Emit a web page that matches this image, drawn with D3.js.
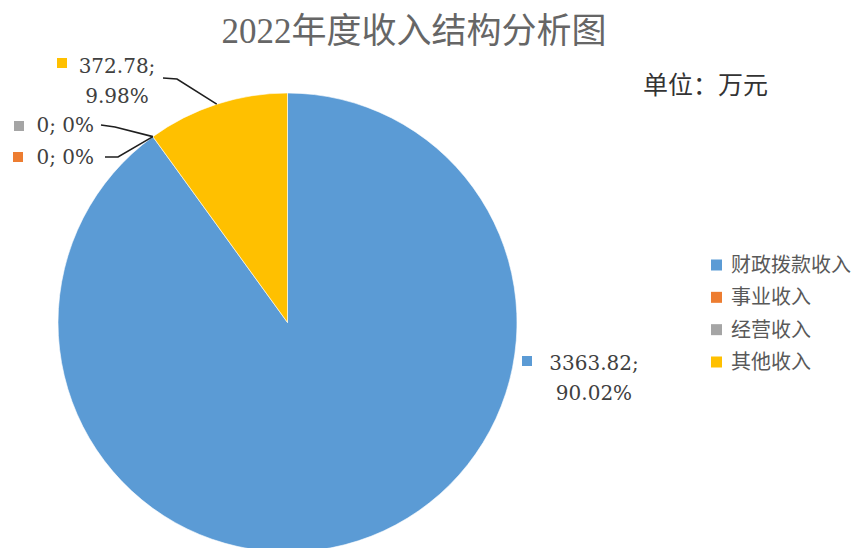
<!DOCTYPE html>
<html>
<head>
<meta charset="utf-8">
<script src="https://cdn.jsdelivr.net/npm/d3@7"></script>
<style>
  html, body { margin: 0; padding: 0; background: #ffffff; }
  svg { display: block; }
</style>
</head>
<body>
<svg id="chart" width="864" height="548"></svg>
<script>
// ---- data ----
const title = "2022年度收入结构分析图";
const unitLabel = "单位：万元";
const categories = ["财政拨款收入", "事业收入", "经营收入", "其他收入"];
const values = [3363.82, 0, 0, 372.78];
const colors = ["#5B9BD5", "#ED7D31", "#A5A5A5", "#FFC000"];

// ---- layout (not data) ----
const W = 864, H = 548;
const cx = 287.5, cy = 322.5, R = 229.5;
const serif = "'DejaVu Serif', 'Noto Sans CJK SC', serif";
const cjk = "'Noto Sans CJK SC', sans-serif";

const svg = d3.select("#chart");
svg.append("rect").attr("width", W).attr("height", H).attr("fill", "#fff");

// title
svg.append("text")
  .attr("x", 414).attr("y", 43)
  .attr("text-anchor", "middle")
  .attr("font-family", "'Liberation Serif', 'Noto Sans CJK SC', serif")
  .attr("font-size", 35)
  .attr("fill", "#666666")
  .text(title);

// unit
svg.append("text")
  .attr("x", 643).attr("y", 94)
  .attr("font-family", cjk)
  .attr("font-size", 25)
  .attr("fill", "#333333")
  .text(unitLabel);

// pie
const total = d3.sum(values);
const pie = d3.pie().sort(null).value(d => d)(values);
const arc = d3.arc().innerRadius(0).outerRadius(R);
const g = svg.append("g").attr("transform", `translate(${cx},${cy})`);
g.selectAll("path").data(pie).join("path")
  .attr("d", arc)
  .attr("fill", (d, i) => colors[i])
  .attr("stroke", "#ffffff")
  .attr("stroke-width", d => d.value > 0 ? 0.6 : 0);

// labels
function fmtVal(v) { return v === 0 ? "0" : v.toFixed(2); }
function fmtPct(v) { const p = v / total; return p === 0 ? "0%" : (p * 100).toFixed(2) + "%"; }
function edgePoint(d) {
  const a = (d.startAngle + d.endAngle) / 2;
  return [cx + R * Math.sin(a), cy - R * Math.cos(a)];
}

// per-slice label placement (positions only)
const labelLayout = [
  { twoLine: true, x: 594, y1: 370, y2: 400, sq: [522, 356], line: null },
  { twoLine: false, x: 94, y1: 164, sq: [13, 152], line: [[105, 157], [118, 157]] },
  { twoLine: false, x: 94, y1: 132, sq: [14, 121], line: [[101, 125], [115, 127]] },
  { twoLine: true, x: 117, y1: 73, y2: 103, sq: [57, 58], line: [[163, 78], [177, 79]] }
];

const lg = svg.append("g");
pie.forEach((d, i) => {
  const L = labelLayout[i];
  if (L.line) {
    const pts = L.line.concat([edgePoint(d)]);
    lg.append("path")
      .attr("d", d3.line()(pts))
      .attr("fill", "none")
      .attr("stroke", "#1f1f1f")
      .attr("stroke-width", 1.6);
  }
  lg.append("rect")
    .attr("x", L.sq[0]).attr("y", L.sq[1])
    .attr("width", 10).attr("height", 10)
    .attr("fill", colors[i]);
  if (L.twoLine) {
    lg.append("text").attr("x", L.x).attr("y", L.y1)
      .attr("text-anchor", "middle")
      .attr("font-family", serif).attr("font-size", 20).attr("fill", "#404040")
      .text(fmtVal(d.value) + ";");
    lg.append("text").attr("x", L.x).attr("y", L.y2)
      .attr("text-anchor", "middle")
      .attr("font-family", serif).attr("font-size", 20).attr("fill", "#404040")
      .text(fmtPct(d.value));
  } else {
    lg.append("text").attr("x", L.x).attr("y", L.y1)
      .attr("text-anchor", "end")
      .attr("font-family", serif).attr("font-size", 20).attr("fill", "#404040")
      .text(fmtVal(d.value) + "; " + fmtPct(d.value));
  }
});

// legend
const legendY = d3.scalePoint().domain(categories).range([265, 362]);
const leg = svg.append("g");
categories.forEach((c, i) => {
  const y = legendY(c);
  leg.append("rect").attr("x", 711).attr("y", y - 5.5)
    .attr("width", 11).attr("height", 11).attr("fill", colors[i]);
  leg.append("text").attr("x", 731).attr("y", y + 7)
    .attr("font-family", cjk).attr("font-size", 20).attr("fill", "#595959")
    .text(c);
});
</script>
</body>
</html>
